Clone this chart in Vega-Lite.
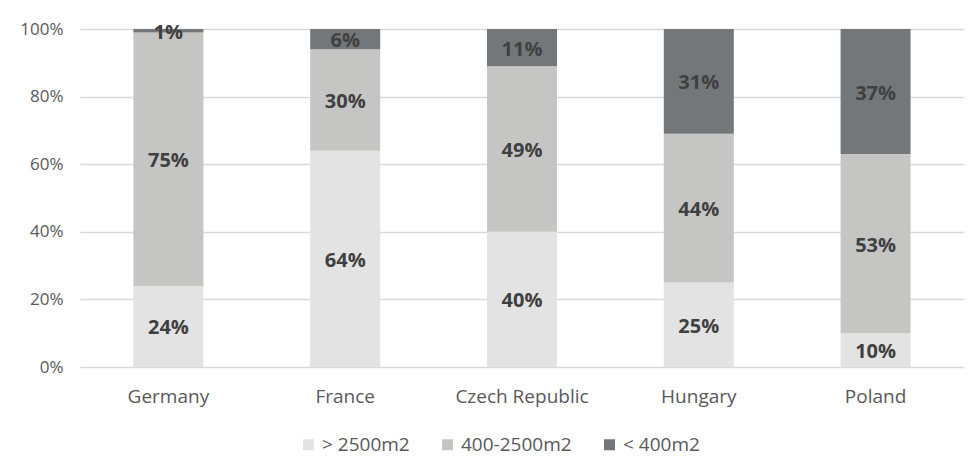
{
  "$schema": "https://vega.github.io/schema/vega-lite/v6.json",
  "width": 884,
  "height": 338,
  "autosize": {"type": "none"},
  "padding": {"left": 80, "top": 29, "right": 14, "bottom": 99},
  "background": "white",
  "data": {
    "values": [
      {"country": "Germany", "size": "> 2500m2", "rank": 1, "pct": 24},
      {"country": "Germany", "size": "400-2500m2", "rank": 2, "pct": 75},
      {"country": "Germany", "size": "< 400m2", "rank": 3, "pct": 1},
      {"country": "France", "size": "> 2500m2", "rank": 1, "pct": 64},
      {"country": "France", "size": "400-2500m2", "rank": 2, "pct": 30},
      {"country": "France", "size": "< 400m2", "rank": 3, "pct": 6},
      {"country": "Czech Republic", "size": "> 2500m2", "rank": 1, "pct": 40},
      {"country": "Czech Republic", "size": "400-2500m2", "rank": 2, "pct": 49},
      {"country": "Czech Republic", "size": "< 400m2", "rank": 3, "pct": 11},
      {"country": "Hungary", "size": "> 2500m2", "rank": 1, "pct": 25},
      {"country": "Hungary", "size": "400-2500m2", "rank": 2, "pct": 44},
      {"country": "Hungary", "size": "< 400m2", "rank": 3, "pct": 31},
      {"country": "Poland", "size": "> 2500m2", "rank": 1, "pct": 10},
      {"country": "Poland", "size": "400-2500m2", "rank": 2, "pct": 53},
      {"country": "Poland", "size": "< 400m2", "rank": 3, "pct": 37}
    ]
  },
  "encoding": {
    "x": {
      "field": "country",
      "type": "nominal",
      "sort": ["Germany", "France", "Czech Republic", "Hungary", "Poland"],
      "scale": {"paddingInner": 0, "paddingOuter": 0},
      "axis": {
        "title": null,
        "domain": false,
        "ticks": false,
        "labelAngle": 0,
        "labelPadding": 20,
        "labelFont": "Open Sans",
        "labelFontSize": 19,
        "labelColor": "#595959"
      }
    }
  },
  "layer": [
    {
      "mark": {"type": "bar", "size": 70},
      "encoding": {
        "y": {
          "field": "pct",
          "type": "quantitative",
          "stack": "zero",
          "scale": {"domain": [0, 100], "nice": false},
          "axis": {
            "title": null,
            "values": [0, 20, 40, 60, 80, 100],
            "labelExpr": "datum.value + '%'",
            "domain": false,
            "ticks": false,
            "labelPadding": 17,
            "labelFont": "Open Sans",
            "labelFontSize": 17,
            "labelColor": "#595959",
            "gridColor": "#d9d9d9",
            "gridWidth": 1.3
          }
        },
        "color": {
          "field": "size",
          "type": "nominal",
          "sort": ["> 2500m2", "400-2500m2", "< 400m2"],
          "scale": {
            "domain": ["> 2500m2", "400-2500m2", "< 400m2"],
            "range": ["#e3e3e3", "#c5c5c4", "#74777a"]
          },
          "legend": {
            "title": null,
            "orient": "none",
            "direction": "horizontal",
            "legendX": 219,
            "legendY": 406,
            "symbolType": "square",
            "symbolSize": 121,
            "symbolStrokeWidth": 0,
            "labelOffset": 4,
            "columnPadding": 28,
            "labelFont": "Open Sans",
            "labelFontSize": 19,
            "labelColor": "#595959"
          }
        },
        "order": {"field": "rank", "type": "quantitative", "sort": "ascending"}
      }
    },
    {
      "transform": [
        {"stack": "pct", "groupby": ["country"], "sort": [{"field": "rank", "order": "ascending"}], "as": ["lo", "hi"]},
        {"calculate": "(datum.lo + datum.hi) / 2", "as": "mid"},
        {"calculate": "datum.pct + '%'", "as": "label"}
      ],
      "mark": {
        "type": "text",
        "font": "Open Sans",
        "fontSize": 20,
        "fontWeight": "bold",
        "color": "#404040",
        "baseline": "middle",
        "align": "center",
        "dy": 2
      },
      "encoding": {
        "y": {"field": "mid", "type": "quantitative"},
        "text": {"field": "label", "type": "nominal"}
      }
    }
  ],
  "config": {
    "view": {"stroke": null}
  }
}
